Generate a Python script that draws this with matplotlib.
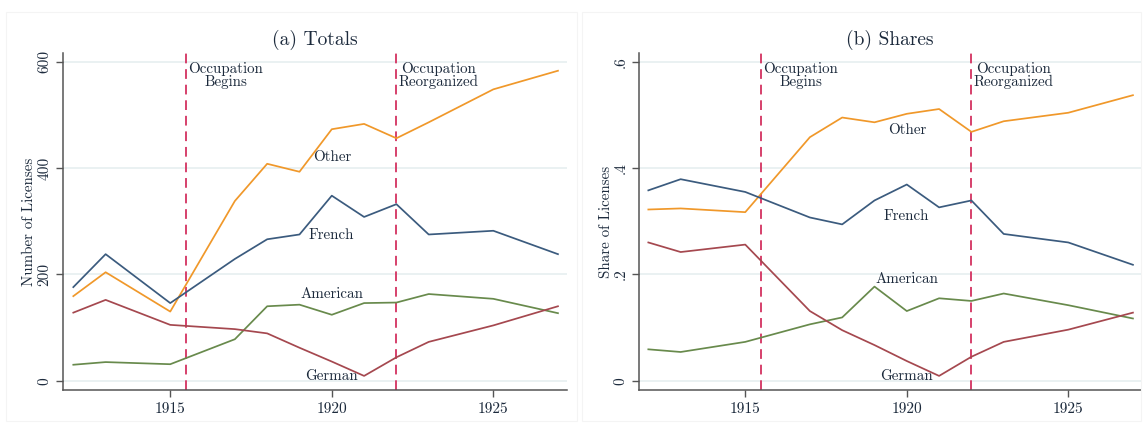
import matplotlib
matplotlib.use("Agg")
import matplotlib.pyplot as plt
from matplotlib.patches import Rectangle

plt.rcParams['font.family'] = ['cmr10', 'DejaVu Serif']
plt.rcParams['axes.formatter.use_mathtext'] = True
plt.rcParams['mathtext.fontset'] = 'cm'

years = [1912, 1913, 1915, 1917, 1918, 1919, 1920, 1921, 1922, 1923, 1925, 1927]

tot_other = [159, 204, 130, 338, 408, 393, 473, 483, 456, 486, 548, 583]
tot_french = [176, 238, 146, 229, 266, 275, 348, 308, 332, 275, 282, 238]
tot_american = [30, 35, 31, 78, 140, 143, 124, 146, 147, 163, 154, 127]
tot_german = [128, 152, 105, 97, 89, 62, 36, 9, 44, 73, 104, 140]

sh_other = [0.322, 0.324, 0.317, 0.458, 0.495, 0.486, 0.502, 0.511, 0.468, 0.488, 0.504, 0.537]
sh_french = [0.358, 0.379, 0.355, 0.307, 0.294, 0.339, 0.369, 0.326, 0.339, 0.276, 0.260, 0.218]
sh_american = [0.059, 0.054, 0.073, 0.106, 0.119, 0.177, 0.131, 0.155, 0.150, 0.164, 0.142, 0.117]
sh_german = [0.260, 0.242, 0.256, 0.131, 0.095, 0.067, 0.037, 0.009, 0.045, 0.073, 0.096, 0.128]

event_years = [1915.5, 1922]
event_labels = ["Occupation\nBegins", "Occupation\nReorganized"]

xticks = [1915, 1920, 1925]
tot_yticks = [0, 200, 400, 600]
tot_yticklabels = ["0", "200", "400", "600"]
sh_yticks = [0, 0.2, 0.4, 0.6]
sh_yticklabels = ["0", ".2", ".4", ".6"]

series_names = ["Other", "French", "American", "German"]
colors = ["#f0982a", "#3b5b7e", "#688a4c", "#a5484f"]
tot_label_y = [421, 274, 163, 9]
sh_label_y = [0.4715, 0.310, 0.191, 0.009]

text_color = "#1c2a3c"
vline_color = "#d6406b"

W, H = 1143, 423
fig = plt.figure(figsize=(W / 100, H / 100), dpi=100)

# faint panel frames
for x0, x1 in [(6, 577), (582, 1141)]:
    fig.patches.append(Rectangle((x0 / W, 0.005), (x1 - x0) / W, 1 - 12 / H - 0.005,
                                 transform=fig.transFigure, fill=False,
                                 edgecolor="#f4f4f4", linewidth=0.8))

ax1 = fig.add_axes([63.3 / W, 1 - 390 / H, (567 - 63.3) / W, (390 - 53.3) / H])
ax2 = fig.add_axes([639.3 / W, 1 - 390 / H, (1141 - 639.3) / W, (390 - 53.3) / H])


def style(ax, yticks, yticklabels, ylabel, title, xlim, ylim):
    ax.set_xlim(*xlim)
    ax.set_ylim(*ylim)
    for s in ["top", "right"]:
        ax.spines[s].set_visible(False)
    for s in ["left", "bottom"]:
        ax.spines[s].set_color("#555555")
        ax.spines[s].set_linewidth(1.1)
    ax.set_xticks(xticks)
    ax.set_xticklabels([str(x) for x in xticks])
    ax.set_yticks(yticks)
    ax.set_yticklabels(yticklabels, rotation=90, va="center")
    ax.tick_params(axis="both", colors="#555555", labelcolor=text_color,
                   labelsize=11, length=5, width=1)
    ax.grid(axis="y", color="#e6eff0", linewidth=1.2)
    ax.set_axisbelow(True)
    ax.set_ylabel(ylabel, fontsize=10.8, color=text_color, labelpad=4)
    ax.set_title(title, fontsize=14, color=text_color, pad=6)


style(ax1, tot_yticks, tot_yticklabels, "Number of Licenses", "(a) Totals",
      (1911.69, 1927.28), (-17.5, 615.8))
style(ax2, sh_yticks, sh_yticklabels, "Share of Licenses", "(b) Shares",
      (1911.72, 1927.25), (-0.0175, 0.6158))

for ax, data, label_y, top in [
    (ax1, [tot_other, tot_french, tot_american, tot_german], tot_label_y, 600),
    (ax2, [sh_other, sh_french, sh_american, sh_german], sh_label_y, 0.6),
]:
    for vals, c in zip(data, colors):
        ax.plot(years, vals, color=c, linewidth=1.25, zorder=3)
    for name, ly in zip(series_names, label_y):
        ax.text(1920, ly, name, ha="center", va="center", fontsize=10.8,
                color=text_color, zorder=4)
    for ey, el in zip(event_years, event_labels):
        ax.axvline(ey, color=vline_color, linestyle=(0, (5, 3)), linewidth=1.4, zorder=2)
        ax.annotate(el, xy=(ey, top), xytext=(1.5, 0), textcoords="offset points",
                    ha="left", va="top", multialignment="center", fontsize=10.8,
                    color=text_color, linespacing=0.95, zorder=4)

ax1.yaxis.set_label_coords(-0.054, 0.5)
ax2.yaxis.set_label_coords(-0.052, 0.5)

fig.savefig("out.png", dpi=100)
